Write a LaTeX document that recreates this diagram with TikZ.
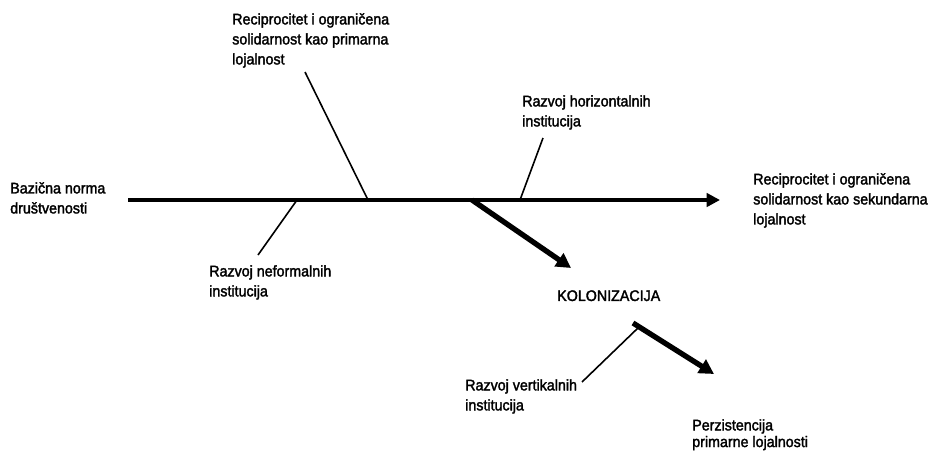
\documentclass[tikz,border=0pt]{standalone}
\usepackage{fontspec}
\setmainfont{Liberation Sans}[FakeBold=2, FakeStretch=0.93]
\usetikzlibrary{arrows.meta, positioning}

\begin{document}
\begin{tikzpicture}[x=0.75pt, y=-0.75pt,
    txt/.style={anchor=north west, align=left, inner sep=0pt, font=\fontsize{11.5}{15}\selectfont},
    axis/.style={line width=3.6pt, -{Triangle[length=10pt, width=10pt]}},
    bigarrow/.style={line width=4pt, -{Triangle[length=11pt, width=11.5pt]}},
    twig/.style={line width=1.2pt}]
    \useasboundingbox (0,0) rectangle (931,450);

    % Nodes
    \node[txt] (norma) at (10,182) {Bazična norma\\društvenosti};
    \node[txt] (primarna) at (232,13) {Reciprocitet i ograničena\\solidarnost kao primarna\\lojalnost};
    \node[txt] (horiz) at (522,95) {Razvoj horizontalnih\\institucija};
    \node[txt] (neform) at (209,265) {Razvoj neformalnih\\institucija};
    \node[txt] (sekund) at (753,173) {Reciprocitet i ograničena\\solidarnost kao sekundarna\\lojalnost};
    \node[txt] (kolon) at (557,290) {KOLONIZACIJA};
    \node[txt] (vert) at (465,379) {Razvoj vertikalnih\\institucija};
    \node[txt, font=\fontsize{11.5}{12.5}\selectfont] (perzist) at (692,419) {Perzistencija\\primarne lojalnosti};

    % Points on the axis
    \coordinate (start) at (128,200);
    \coordinate (end) at (720,200);
    \coordinate (a1) at (297,200);
    \coordinate (a2) at (368,200);
    \coordinate (a3) at (472,200);
    \coordinate (a4) at (520,200);

    % Free ends of the branches
    \coordinate (t1) at (258,255);
    \coordinate (t2) at (305,72);
    \coordinate (t4) at (543,138);
    \coordinate (k1) at (571,268);
    \coordinate (k2) at (633,323);
    \coordinate (k3) at (714,374);
    \coordinate (kv) at (639,327);
    \coordinate (t5) at (582,382);

    % Connections
    \draw[axis] (start) -- (end);
    \draw[twig] (t1) -- (a1);
    \draw[twig] (t2) -- (a2);
    \draw[twig] (t4) -- (a4);
    \draw[bigarrow] (a3) -- (k1);
    \draw[bigarrow] (k2) -- (k3);
    \draw[twig] (t5) -- (kv);

\end{tikzpicture}
\end{document}
